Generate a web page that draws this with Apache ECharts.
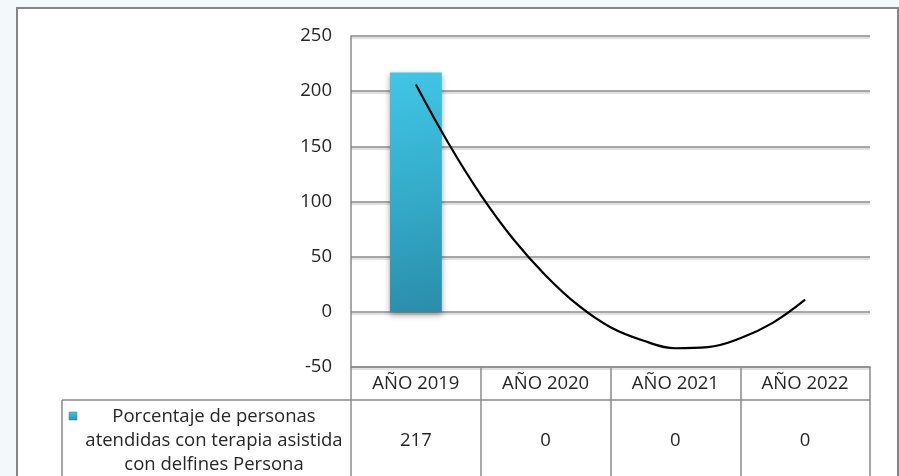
<!DOCTYPE html>
<html>
<head>
<meta charset="utf-8">
<script src="https://cdn.jsdelivr.net/npm/echarts@6/dist/echarts.min.js"></script>
<style>
  html, body { margin: 0; padding: 0; background: #f3f8fb; }
  #chart { width: 899px; height: 476px; }
</style>
</head>
<body>
<div id="chart"></div>
<script>
// ---- data ----
const categories = ['AÑO 2019', 'AÑO 2020', 'AÑO 2021', 'AÑO 2022'];
const values = [217, 0, 0, 0];
const seriesName = 'Porcentaje de personas\natendidas con terapia asistida\ncon delfines Persona';
// trendline (polynomial), x in category positions (1..4)
const trendX = [1, 1.25, 1.5, 1.75, 2, 2.25, 2.5, 2.75, 3, 3.25, 3.5, 3.75, 4];
const trendY = [206, 153, 106, 66, 33, 6, -14, -26, -33, -32, -24, -10, 11];
const yTicks = { min: -50, max: 250, interval: 50 };

// ---- layout ----
const W = 899, H = 476;
const gridL = 351, gridR = 870, gridT = 36, gridB = 367;
const rowY = 400, tableL = 62;
const FONT = '"Open Sans", sans-serif';
const FS = 18.5;
const TXT = '#262626';
const LINE = '#8a8a8a';

const chart = echarts.init(document.getElementById('chart'));

const option = {
  animation: false,
  textStyle: { fontFamily: FONT },
  grid: { left: gridL, right: W - gridR, top: gridT, bottom: H - gridB, containLabel: false },
  xAxis: [{
    type: 'category',
    data: categories,
    boundaryGap: true,
    axisLine: { show: true, onZero: false, lineStyle: { color: LINE, width: 1.5 } },
    axisTick: { show: true, length: 120, lineStyle: { color: LINE, width: 1.5 } },
    axisLabel: {
      margin: 0,
      interval: 0,
      formatter: function (val, idx) { return '{h|' + val + '}\n{v|' + values[idx] + '}'; },
      rich: {
        h: { fontFamily: FONT, fontSize: FS, color: TXT, lineHeight: 33 },
        v: { fontFamily: FONT, fontSize: FS, color: TXT, lineHeight: 82 }
      }
    }
  }, {
    type: 'value',
    min: 0.5, max: 4.5,
    show: false
  }],
  yAxis: {
    type: 'value',
    min: yTicks.min, max: yTicks.max, interval: yTicks.interval,
    axisLine: { show: true, lineStyle: { color: LINE, width: 1.5 } },
    axisTick: { show: false },
    axisLabel: { fontFamily: FONT, fontSize: FS, color: TXT, margin: 19 },
    splitLine: { show: true, lineStyle: { color: LINE, width: 1.5, shadowColor: 'rgba(0,0,0,0.18)', shadowOffsetY: 2, shadowBlur: 1 } }
  },
  series: [{
    name: 'Porcentaje de personas atendidas con terapia asistida con delfines Persona',
    type: 'bar',
    data: values,
    barWidth: '40%',
    itemStyle: {
      color: new echarts.graphic.LinearGradient(0, 0, 1, 1, [
        { offset: 0, color: '#41c6e6' },
        { offset: 0.5, color: '#34acca' },
        { offset: 1, color: '#2a8dab' }
      ]),
      borderWidth: 0,
      shadowColor: 'rgba(0,0,0,0.35)',
      shadowBlur: 6,
      shadowOffsetY: 3
    },
    z: 2
  }, {
    name: 'Tendencia',
    type: 'line',
    xAxisIndex: 1,
    data: trendX.map((x, i) => [x, trendY[i]]),
    smooth: 0.4,
    symbol: 'none',
    lineStyle: { color: '#000', width: 2.2 },
    z: 5
  }],
  graphic: {
    elements: [
      {
        type: 'rect', z: -100, silent: true,
        shape: { x: 17, y: 8, width: 881, height: 480 },
        style: { fill: '#ffffff', stroke: '#858585', lineWidth: 2 }
      },
      {
        type: 'line', z: 10, silent: true,
        shape: { x1: tableL, y1: rowY, x2: gridR, y2: rowY },
        style: { stroke: LINE, lineWidth: 1.5 }
      },
      {
        type: 'line', z: 10, silent: true,
        shape: { x1: tableL, y1: rowY, x2: tableL, y2: H + 5 },
        style: { stroke: LINE, lineWidth: 1.5 }
      },
      {
        type: 'rect', z: 10, silent: true,
        shape: { x: 69, y: 412, width: 8, height: 8 },
        style: {
          fill: new echarts.graphic.LinearGradient(0, 0, 0, 1, [
            { offset: 0, color: '#45c6e6' }, { offset: 1, color: '#2b8fab' }
          ]),
          stroke: '#2b8ba7', lineWidth: 0.5
        }
      },
      {
        type: 'text', z: 10, silent: true,
        x: 214, y: 441,
        style: {
          text: seriesName,
          fontFamily: FONT, fontSize: FS, fill: TXT,
          lineHeight: 24,
          align: 'center', verticalAlign: 'middle'
        }
      }
    ]
  }
};

chart.setOption(option);
</script>
</body>
</html>
